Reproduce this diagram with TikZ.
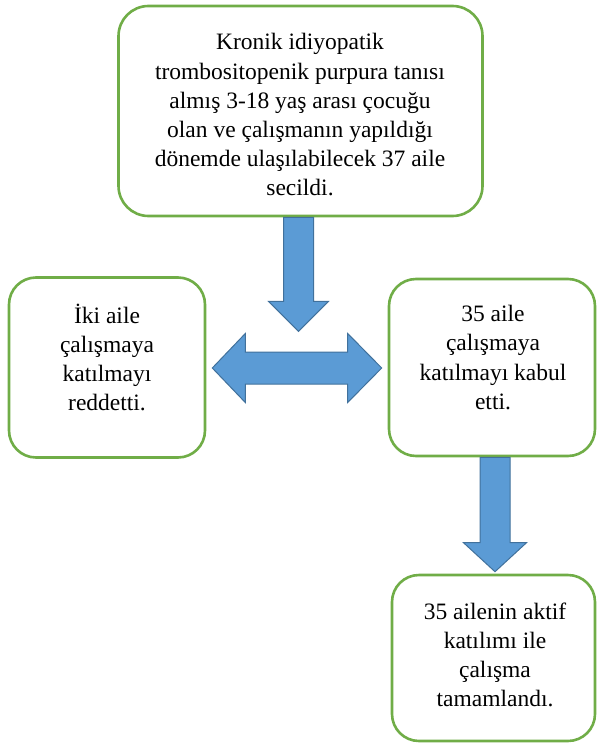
\documentclass[tikz,border=0pt]{standalone}
\usepackage{fontspec}
\setmainfont{Liberation Serif}
\usetikzlibrary{calc}
\definecolor{boxgreen}{HTML}{70AD47}
\definecolor{arrowfill}{HTML}{5B9BD5}
\definecolor{arrowline}{HTML}{41719C}
\tikzset{
  flowbox/.style={draw=boxgreen, line width=2.6pt, rounded corners=30pt, fill=white, inner sep=0pt},
  flowtext/.style={align=center, font=\fontsize{23.5pt}{29.2pt}\selectfont, inner sep=0pt},
  bigarrow/.style={fill=arrowfill, draw=arrowline, line width=1pt, line join=miter}
}
\begin{document}
\begin{tikzpicture}[x=1pt,y=-1pt]
\useasboundingbox (0,0) rectangle (597,744);
% boxes
\node[flowbox, minimum width=364pt, minimum height=210pt] (top) at (300.5,111) {};
\node[flowbox, minimum width=196pt, minimum height=180pt, rounded corners=27pt] (left) at (107,367.5) {};
\node[flowbox, minimum width=206pt, minimum height=177pt, rounded corners=27pt] (right) at (492,367.5) {};
\node[flowbox, minimum width=203pt, minimum height=166pt, rounded corners=27pt] (bottom) at (493.5,658) {};
% texts
\node[flowtext] (toptext) at (300,115) {Kronik idiyopatik\\trombositopenik purpura tanısı\\almış 3-18 yaş arası çocuğu\\olan ve çalışmanın yapıldığı\\dönemde ulaşılabilecek 37 aile\\secildi.};
\node[flowtext] (lefttext) at (107,357.5) {İki aile\\çalışmaya\\katılmayı\\reddetti.};
\node[flowtext] (righttext) at (493,357.5) {35 aile\\çalışmaya\\katılmayı kabul\\etti.};
\node[flowtext] (bottomtext) at (495,655) {35 ailenin aktif\\katılımı ile\\çalışma\\tamamlandı.};
% arrow 1: top box down
\coordinate (a1) at ($(top.south)+(-2,0)$);
\draw[bigarrow] ($(a1)+(-15,0)$) -- ($(a1)+(-15,84)$) -- ($(a1)+(-30,84)$) -- ($(a1)+(0,114)$)
  -- ($(a1)+(30,84)$) -- ($(a1)+(15,84)$) -- ($(a1)+(15,0)$) -- cycle;
% double arrow between left and right boxes
\coordinate (dl) at ($(left.east)+(6,0.5)$);
\coordinate (dr) at ($(right.west)+(-6,0.5)$);
\draw[bigarrow] (dl) -- ($(dl)+(33,-34.5)$) -- ($(dl)+(33,-16)$) -- ($(dr)+(-34,-16)$) -- ($(dr)+(-34,-34.5)$)
  -- (dr) -- ($(dr)+(-34,34.5)$) -- ($(dr)+(-34,16)$) -- ($(dl)+(33,16)$) -- ($(dl)+(33,34.5)$) -- cycle;
% arrow 2: right box down to bottom box
\coordinate (a2) at (495,0 |- right.south);
\coordinate (a2t) at (495,0 |- bottom.north);
\draw[bigarrow] ($(a2)+(-15,0)$) -- ($(a2t)+(-15,-31)$) -- ($(a2t)+(-31.5,-31)$) -- ($(a2t)+(0,-2)$)
  -- ($(a2t)+(31.5,-31)$) -- ($(a2t)+(15,-31)$) -- ($(a2)+(15,0)$) -- cycle;
\end{tikzpicture}
\end{document}
